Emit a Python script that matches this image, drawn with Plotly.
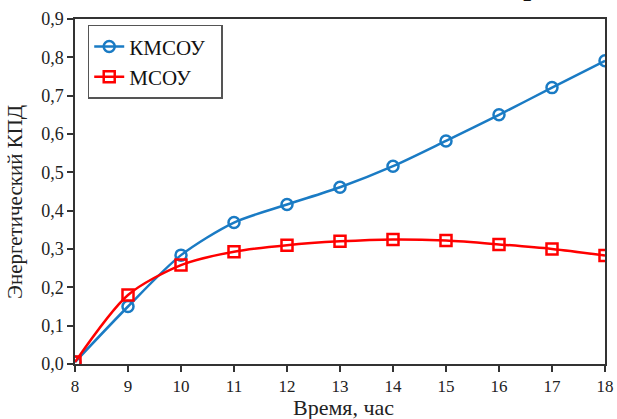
import plotly.graph_objects as go

hours = [8, 9, 10, 11, 12, 13, 14, 15, 16, 17, 18]
kmsou = [0.005, 0.15, 0.284, 0.369, 0.416, 0.461, 0.516, 0.582, 0.650, 0.721, 0.791]
msou = [0.005, 0.180, 0.258, 0.293, 0.310, 0.320, 0.325, 0.322, 0.312, 0.300, 0.283]
y_ticks = [0.0, 0.1, 0.2, 0.3, 0.4, 0.5, 0.6, 0.7, 0.8, 0.9]

font_family = "Liberation Serif"

fig = go.Figure()
fig.add_trace(go.Scatter(
    x=hours, y=kmsou, name="КМСОУ\u00a0\u00a0", mode="lines+markers",
    line=dict(color="#1a7bc4", width=2.5, shape="spline", smoothing=0.8),
    marker=dict(symbol="circle-open", size=11, color="#1a7bc4", line=dict(width=2.5)),
))
fig.add_trace(go.Scatter(
    x=hours, y=msou, name="МСОУ", mode="lines+markers",
    line=dict(color="#ff0000", width=2.5, shape="spline", smoothing=0.8),
    marker=dict(symbol="square-open", size=11, color="#ff0000", line=dict(width=2.5)),
))

fig.update_layout(
    width=617, height=419,
    margin=dict(l=75, r=12, t=19, b=55, autoexpand=False),
    paper_bgcolor="white", plot_bgcolor="white",
    separators=", ",
    font=dict(family=font_family, color="#222222", size=16),
    showlegend=True,
    legend=dict(
        x=0.024, y=0.983, xanchor="left", yanchor="top",
        bordercolor="#555555", borderwidth=1.5, bgcolor="white",
        font=dict(family=font_family, size=21, color="#111111"),
        tracegroupgap=0, itemwidth=30,
    ),
)
fig.update_xaxes(
    range=[8, 18], tickvals=hours, ticktext=[str(h) for h in hours],
    showgrid=False, zeroline=False, automargin=False,
    showline=True, linecolor="#333333", linewidth=1.5, mirror=True,
    ticks="outside", ticklen=6, tickcolor="#333333", tickwidth=1.5,
    tickfont=dict(family=font_family, size=17, color="#222222"),
)
fig.update_yaxes(
    range=[0, 0.9], tickvals=y_ticks, tickformat=".1f",
    showgrid=False, zeroline=False, automargin=False,
    showline=True, linecolor="#333333", linewidth=1.5, mirror=True,
    ticks="outside", ticklen=6, tickcolor="#333333", tickwidth=1.5,
    tickfont=dict(family=font_family, size=18, color="#222222"),
)

# axis titles
fig.add_annotation(
    text="Время, час", xref="paper", yref="paper", x=0.5075, y=-0.1275,
    xanchor="center", yanchor="middle", showarrow=False,
    font=dict(family=font_family, size=22, color="#222222"),
)
fig.add_annotation(
    text="Энергетический КПД", xref="paper", yref="paper", x=-0.113, y=0.47,
    xanchor="center", yanchor="middle", showarrow=False, textangle=-90,
    font=dict(family=font_family, size=21, color="#222222"),
)

fig.add_annotation(
    text="р", xref="paper", yref="paper", x=0.862, y=1.046,
    xanchor="center", yanchor="bottom", showarrow=False,
    font=dict(family=font_family, size=34, color="#111111"),
)

fig.write_html("out.html")
